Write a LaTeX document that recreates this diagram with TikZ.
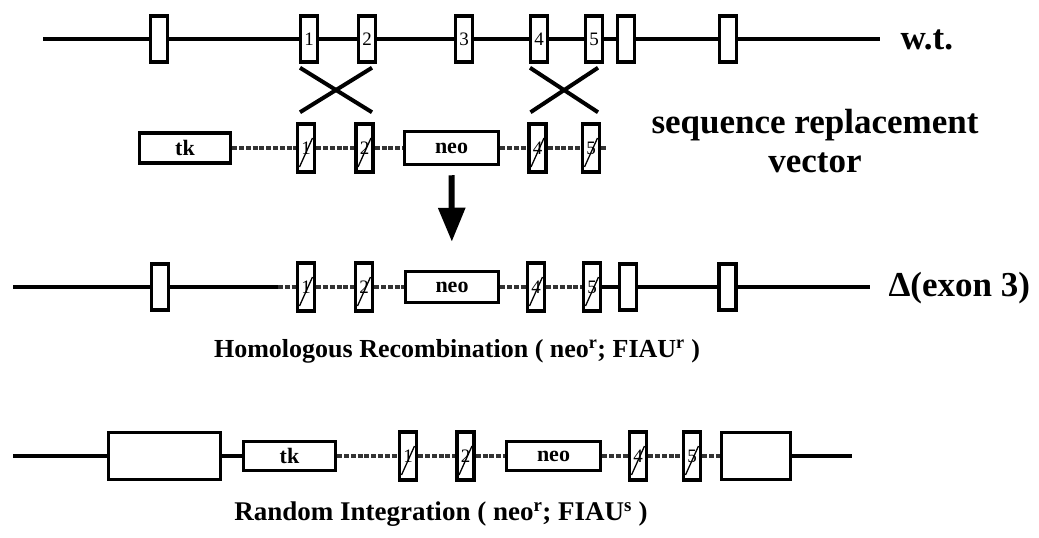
\documentclass[tikz,border=0pt]{standalone}
\usepackage{fontspec}
\setmainfont{Liberation Serif}
\usetikzlibrary{arrows.meta}

\begin{document}
\begin{tikzpicture}[
    x=1pt, y=-1pt,
    exon/.style={
        rectangle, draw=black, fill=white, line width=3.5pt,
        minimum width=17pt, minimum height=46pt, inner sep=0pt,
        font=\fontsize{19}{19}\selectfont
    },
    vexon/.style={
        exon, minimum height=48pt,
        path picture={\draw[line width=1.3pt]
            ([xshift=2pt,yshift=5pt]path picture bounding box.south west) --
            ([xshift=-2pt,yshift=-14pt]path picture bounding box.north east);}
    },
    cassette/.style={
        rectangle, draw=black, fill=white, line width=3.5pt,
        minimum height=30pt, inner sep=0pt,
        font=\bfseries\fontsize{22}{22}\selectfont
    },
    bigbox/.style={exon, minimum height=47pt},
    dna/.style={line width=4pt, black},
    vec/.style={line width=4pt, black!80, dash pattern=on 5pt off 1.8pt},
    cross/.style={line width=4pt, black},
    lbl/.style={font=\bfseries\fontsize{35}{39}\selectfont, align=center},
    capt/.style={font=\bfseries\fontsize{26}{30}\selectfont},
]
\useasboundingbox (0,0) rectangle (1039,538);

% ── Row 1: wild type ──
\coordinate (wL) at (43,39);
\node[exon] (wA) at (159,39) {};
\node[exon] (w1) at (309,39) {1};
\node[exon] (w2) at (367,39) {2};
\node[exon] (w3) at (464,39) {3};
\node[exon] (w4) at (539,39) {4};
\node[exon] (w5) at (594,39) {5};
\node[exon] (wB) at (626,39) {};
\node[exon] (wC) at (728,39) {};
\coordinate (wR) at (880,39);
\node[lbl, anchor=west] (wt) at (897,40) {w.t.};
\draw[dna] (wL) -- (wA) -- (w1) -- (w2) -- (w3) -- (w4) -- (w5) -- (wB) -- (wC) -- (wR);

% ── Row 2: replacement vector ──
\node[cassette, minimum width=91pt] (vtk) at (185,148) {tk};
\node[vexon] (v1) at (306,148) {1};
\node[vexon] (v2) at (364.5,148) {2};
\node[cassette, minimum width=94pt, minimum height=33pt] (vneo) at (451.5,148) {neo};
\node[vexon] (v4) at (537.5,148) {4};
\node[vexon] (v5) at (591,148) {5};
\coordinate (vR) at (608,148);
\draw[vec] (vtk) -- (v1) -- (v2) -- (vneo) -- (v4) -- (v5) -- (vR);
\node[lbl] (seqlbl) at (815,141) {sequence replacement\\vector};

% crossovers
\draw[cross] ([xshift=-9pt,yshift=-4pt]w1.south) -- ([xshift=7.5pt,yshift=10pt]v2.north);
\draw[cross] ([xshift=5pt,yshift=-4pt]w2.south) -- ([xshift=-6pt,yshift=10pt]v1.north);
\draw[cross] ([xshift=-9pt,yshift=-4pt]w4.south) -- ([xshift=7pt,yshift=10pt]v5.north);
\draw[cross] ([xshift=4pt,yshift=-4pt]w5.south) -- ([xshift=-7pt,yshift=10pt]v4.north);

% ── Row 3: homologous recombination ──
\coordinate (hL) at (13,287);
\node[exon] (hA) at (160,287) {};
\coordinate (hs) at (278,287);
\node[vexon] (h1) at (306,287) {1};
\node[vexon] (h2) at (364,287) {2};
\node[cassette, minimum width=93pt, minimum height=31pt] (hneo) at (452,287) {neo};
\node[vexon] (h4) at (536,287) {4};
\node[vexon] (h5) at (592,287) {5};
\node[exon] (hB) at (628,287) {};
\node[exon] (hC) at (727.5,287) {};
\coordinate (hR) at (870,287);
\node[lbl, anchor=west] (dlbl) at (885,288) {Δ(exon 3)};
\draw[dna] (hL) -- (hA) -- (hs);
\draw[vec] (hs) -- (h1) -- (h2) -- (hneo) -- (h4) -- (h5);
\draw[dna] (h5) -- (hB) -- (hC) -- (hR);

\draw[-{Triangle[width=26pt,length=34pt]}, line width=6pt,
      shorten <=9pt, shorten >=28pt] (vneo) -- (hneo);

\node[capt] (homcap) at (457,351)
    {Homologous Recombination ( neo\textsuperscript{r}; FIAU\textsuperscript{r} )};

% ── Row 4: random integration ──
\coordinate (rL) at (13,456);
\node[bigbox, minimum width=112pt] (rA) at (164.5,456) {};
\node[cassette, minimum width=92pt, minimum height=29pt] (rtk) at (289.5,456) {tk};
\node[vexon] (r1) at (408,456) {1};
\node[vexon] (r2) at (465.5,456) {2};
\node[cassette, minimum width=94pt, minimum height=29pt] (rneo) at (553.5,456) {neo};
\node[vexon] (r4) at (638,456) {4};
\node[vexon] (r5) at (692,456) {5};
\node[bigbox, minimum width=69pt] (rB) at (756,456) {};
\coordinate (rR) at (852,456);
\draw[dna] (rL) -- (rA) -- (rtk);
\draw[vec] (rtk) -- (r1) -- (r2) -- (rneo) -- (r4) -- (r5) -- (rB);
\draw[dna] (rB) -- (rR);

\node[capt, font=\bfseries\fontsize{27}{30}\selectfont] (rancap) at (441,514)
    {Random Integration ( neo\textsuperscript{r}; FIAU\textsuperscript{s} )};

\end{tikzpicture}
\end{document}
